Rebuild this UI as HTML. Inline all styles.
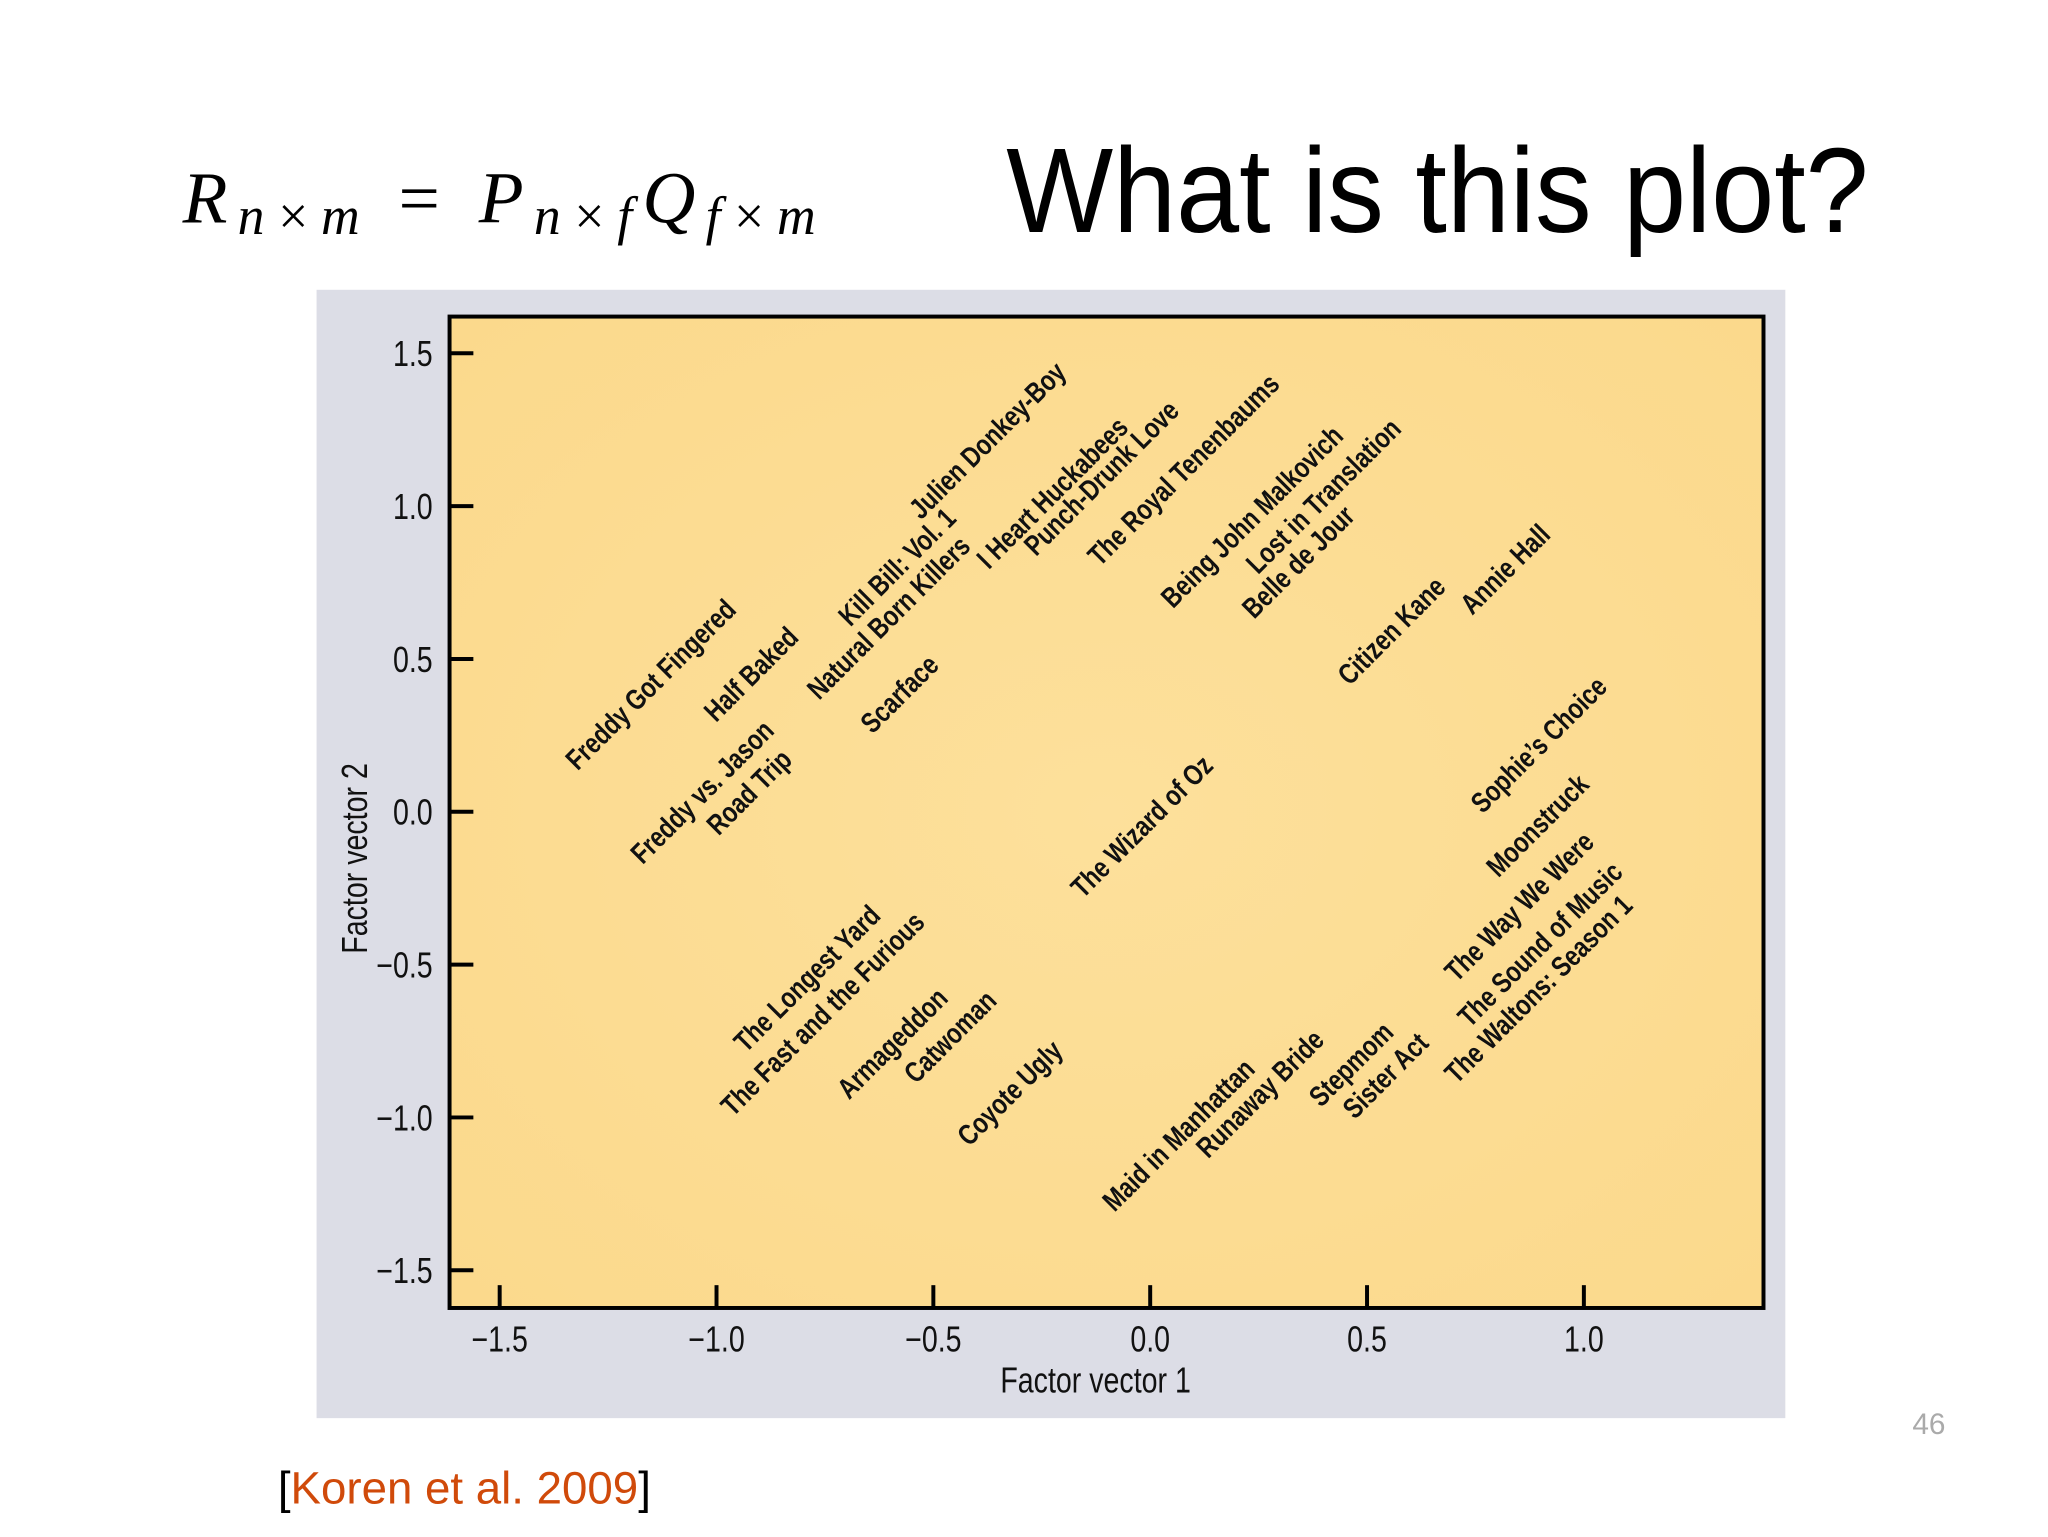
<!DOCTYPE html>
<html><head><meta charset="utf-8"><style>
html,body{margin:0;padding:0;background:#fff;}
svg{display:block;}
.lbl{font-family:"Liberation Sans",sans-serif;font-size:29px;font-weight:bold;fill:#111;}
.tick{font-family:"Liberation Sans",sans-serif;font-size:36px;fill:#111;}
</style></head><body>
<svg id="chart" width="2048" height="1537" viewBox="0 0 2048 1537" xmlns="http://www.w3.org/2000/svg">
<defs>
<radialGradient id="bg" cx="0.5" cy="0.5" r="0.7"><stop offset="0" stop-color="#fde09b"/><stop offset="1" stop-color="#fbd98c"/></radialGradient>
</defs>
<g transform="scale(0.9924)">
<text x="184" y="224" font-family="Liberation Serif" font-style="italic" font-size="74" fill="#000" textLength="638" lengthAdjust="spacing">R<tspan font-size="54" dy="12">n×m</tspan><tspan dy="-12" font-style="normal"> = </tspan>P<tspan font-size="54" dy="12">n×f</tspan><tspan dy="-12">Q</tspan><tspan font-size="54" dy="12">f×m</tspan></text>
<text x="1014" y="234" font-family="Liberation Sans" font-size="122" fill="#000" textLength="869" lengthAdjust="spacingAndGlyphs">What is this plot?</text>
<rect x="319" y="292" width="1480" height="1137" fill="#dcdde6"/>
<rect x="453" y="319" width="1324" height="999" fill="url(#bg)" stroke="#000" stroke-width="4"/>
<g id="axes"></g>
<g id="labels" transform="translate(6,0)"></g>
<text class="tick" transform="translate(1104,1403) scale(0.8,1)" text-anchor="middle">Factor vector 1</text>
<text class="tick" transform="translate(370,865) rotate(-90) scale(0.8,1)" text-anchor="middle">Factor vector 2</text>
<text x="1927" y="1445" font-family="Liberation Sans" font-size="30" fill="#aaa">46</text>
<text x="280" y="1515" font-family="Liberation Sans" font-size="46" fill="#000">[<tspan fill="#d04a0a">Koren et al. 2009</tspan>]</text>
</g>
</svg>
<script>
const xTicks=[-1.5,-1.0,-0.5,0.0,0.5,1.0];
const yTicks=[1.5,1.0,0.5,0.0,-0.5,-1.0,-1.5];
const movies=["Freddy Got Fingered","Half Baked","Freddy vs. Jason","Road Trip","Natural Born Killers","Kill Bill: Vol. 1","Julien Donkey-Boy","Scarface","I Heart Huckabees","Punch-Drunk Love","The Royal Tenenbaums","Being John Malkovich","Lost in Translation","Belle de Jour","Citizen Kane","Annie Hall","Sophie\u2019s Choice","Moonstruck","The Wizard of Oz","The Way We Were","The Sound of Music","The Waltons: Season 1","The Longest Yard","The Fast and the Furious","Armageddon","Catwoman","Coyote Ugly","Maid in Manhattan","Runaway Bride","Stepmom","Sister Act"];
const f1=[-1.334,-1.015,-1.184,-1.009,-0.777,-0.705,-0.542,-0.654,-0.386,-0.277,-0.13,0.039,0.235,0.226,0.446,0.729,0.753,0.789,-0.169,0.693,0.723,0.693,-0.946,-0.976,-0.708,-0.554,-0.431,-0.096,0.12,0.38,0.458];
const f2=[0.132,0.29,-0.175,-0.081,0.363,0.603,0.953,0.252,0.79,0.833,0.8,0.662,0.774,0.628,0.41,0.641,-0.009,-0.218,-0.286,-0.56,-0.709,-0.893,-0.791,-1.0,-0.944,-0.893,-1.098,-1.312,-1.137,-0.97,-1.009];
const NS="http://www.w3.org/2000/svg";
const X=v=>1159+v*437;
const Y=v=>818-v*308;
const axes=document.getElementById('axes');
function mk(t,a){const e=document.createElementNS(NS,t);for(const k in a)e.setAttribute(k,a[k]);return e;}
xTicks.forEach(v=>{
 const l=mk('line',{x1:X(v),x2:X(v),y1:1318,y2:1295,stroke:'#000','stroke-width':4});
 
 
 axes.appendChild(l);
 const t=mk('text',{transform:`translate(${X(v)},1362) scale(0.8,1)`,'text-anchor':'middle',class:'tick'});
 
 
 t.textContent=(v<0?'\u2212':'')+Math.abs(v).toFixed(1);axes.appendChild(t);
});
yTicks.forEach(v=>{
 const l=mk('line',{x1:453,x2:477,y1:Y(v),y2:Y(v),stroke:'#000','stroke-width':4});
 
 
 axes.appendChild(l);
 const t=mk('text',{transform:`translate(436,${Y(v)+13}) scale(0.8,1)`,'text-anchor':'end',class:'tick'});
 
 
 t.textContent=(v<0?'\u2212':'')+Math.abs(v).toFixed(1);axes.appendChild(t);
});
const lg=document.getElementById('labels');
movies.forEach((m,i)=>{
 const t=mk('text',{class:'lbl',transform:`translate(${X(f1[i])},${Y(f2[i])}) rotate(-45) scale(0.8,1)`});
 
 
 t.textContent=m;lg.appendChild(t);
});
</script>
</body></html>
